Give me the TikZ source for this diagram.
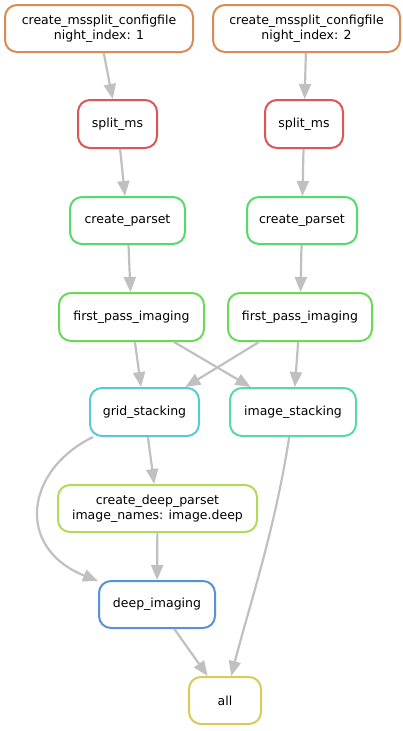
\documentclass[tikz,border=0pt]{standalone}
\usepackage{fontspec}
\setmainfont{DejaVu Sans}
\usetikzlibrary{arrows.meta}
\definecolor{cOrange}{HTML}{D98C57}
\definecolor{cRed}{HTML}{D95757}
\definecolor{cGreenA}{HTML}{57D96B}
\definecolor{cGreenB}{HTML}{6BD957}
\definecolor{cCyan}{HTML}{57C9D9}
\definecolor{cTeal}{HTML}{57D9A8}
\definecolor{cLime}{HTML}{B2D957}
\definecolor{cBlue}{HTML}{5792D9}
\definecolor{cYellow}{HTML}{D9CB57}
\definecolor{edgegray}{HTML}{C0C0C0}
\tikzset{
  job/.style={draw, line width=2pt, rounded corners=12pt, fill=white, align=center,
    font=\fontsize{12.5}{14.5}\selectfont, inner sep=0pt},
  dep/.style={draw=edgegray, line width=2.2pt, -{Triangle[length=15pt,width=12pt]}}
}
\begin{document}
\begin{tikzpicture}[x=1pt,y=-1pt]
\useasboundingbox (0,0) rectangle (403,731);
\node[job, draw=cOrange, minimum width=188pt, minimum height=47pt] (c1) at (99,28.5) {create\_mssplit\_configfile\\night\_index: 1};
\node[job, draw=cOrange, minimum width=187pt, minimum height=47pt] (c2) at (306.5,28.5) {create\_mssplit\_configfile\\night\_index: 2};
\node[job, draw=cRed, minimum width=79pt, minimum height=48pt] (s1) at (117.5,124) {split\_ms};
\node[job, draw=cRed, minimum width=78pt, minimum height=48pt] (s2) at (304,124) {split\_ms};
\node[job, draw=cGreenA, minimum width=115pt, minimum height=47pt] (p1) at (127.5,220.5) {create\_parset};
\node[job, draw=cGreenA, minimum width=110pt, minimum height=47pt] (p2) at (302,220.5) {create\_parset};
\node[job, draw=cGreenB, minimum width=145pt, minimum height=48pt] (f1) at (131.5,317) {first\_pass\_imaging};
\node[job, draw=cGreenB, minimum width=144pt, minimum height=48pt] (f2) at (300,317) {first\_pass\_imaging};
\node[job, draw=cCyan, minimum width=109pt, minimum height=48pt] (g) at (144.5,412) {grid\_stacking};
\node[job, draw=cTeal, minimum width=126pt, minimum height=48pt] (i) at (293,412) {image\_stacking};
\node[job, draw=cLime, minimum width=199pt, minimum height=47pt] (d) at (157.5,508.5) {create\_deep\_parset\\image\_names: image.deep};
\node[job, draw=cBlue, minimum width=116pt, minimum height=47pt] (di) at (157,604.5) {deep\_imaging};
\node[job, draw=cYellow, minimum width=72pt, minimum height=47pt] (a) at (225,700.5) {all};

\draw[dep] (c1) -- (s1);
\draw[dep] (c2) -- (s2);
\draw[dep] (s1) -- (p1);
\draw[dep] (s2) -- (p2);
\draw[dep] (p1) -- (f1);
\draw[dep] (p2) -- (f2);
\draw[dep] (f1) -- (g);
\draw[dep] (f1) -- (i);
\draw[dep] (f2) -- (g);
\draw[dep] (f2) -- (i);
\draw[dep] (g) -- (d);
\draw[dep] (g) .. controls (25,470) and (15,548) .. (di);
\draw[dep] (d) -- (di);
\draw[dep] (di) -- (a);
\draw[dep] (i) .. controls (275,530) and (248,610) .. (a);
\end{tikzpicture}
\end{document}
